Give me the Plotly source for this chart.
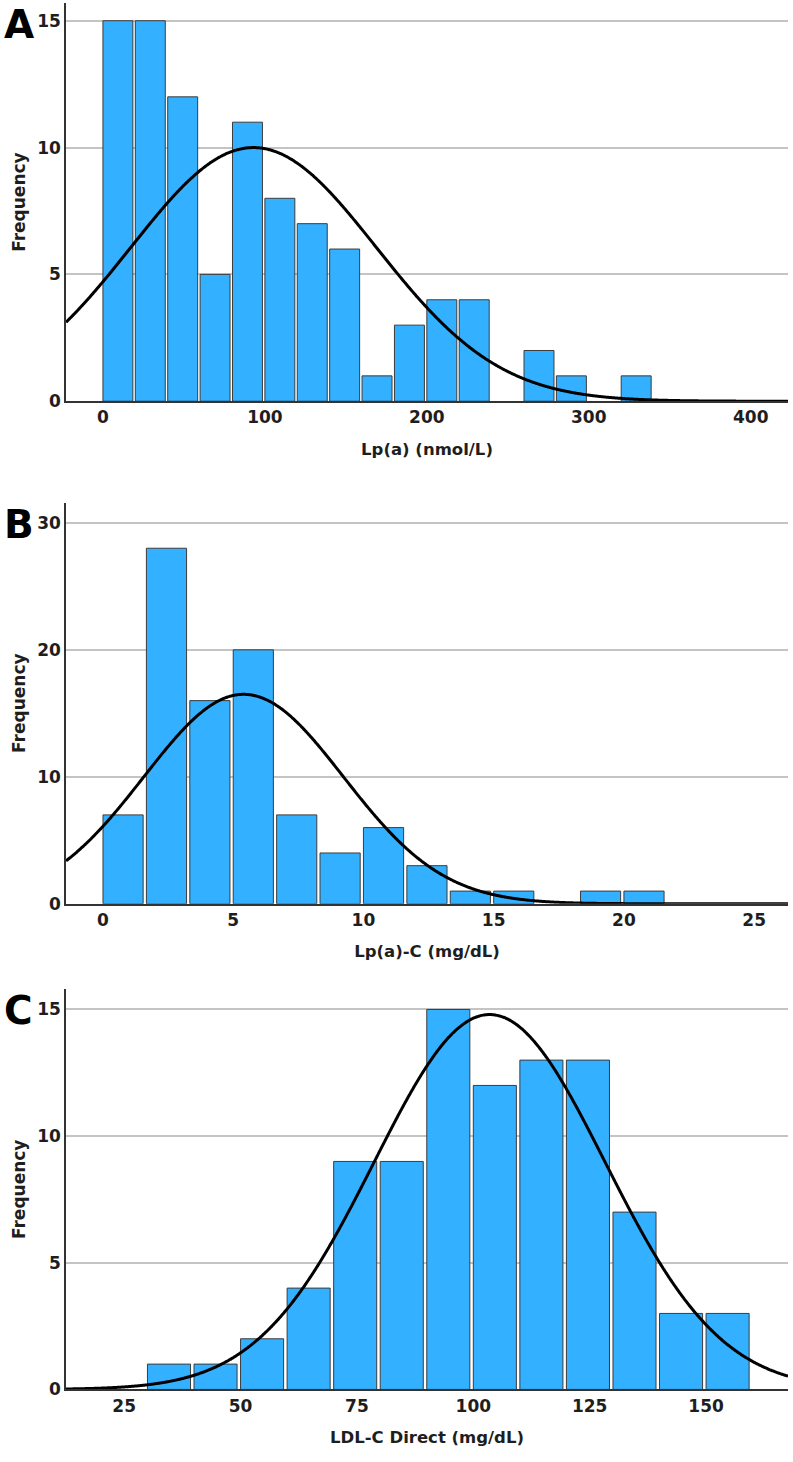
import numpy as np
import plotly.graph_objects as go

# ---------------- Data ----------------
# Panel A: Lp(a) (nmol/L)
A_BIN_LEFT = [0, 20, 40, 60, 80, 100, 120, 140, 160, 180, 200, 220, 240, 260, 280, 300, 320]
A_COUNTS = [15, 15, 12, 5, 11, 8, 7, 6, 1, 3, 4, 4, 0, 2, 1, 0, 1]
A_BIN_WIDTH = 20
A_MEAN = 93.0
A_SD = 75.8

# Panel B: Lp(a)-C (mg/dL)
B_BIN_LEFT = [0, 1.667, 3.333, 5.0, 6.667, 8.333, 10.0, 11.667, 13.333, 15.0, 16.667, 18.333, 20.0]
B_COUNTS = [7, 28, 16, 20, 7, 4, 6, 3, 1, 1, 0, 1, 1]
B_BIN_WIDTH = 1.667
B_MEAN = 5.4
B_SD = 3.83

# Panel C: LDL-C Direct (mg/dL)
C_BIN_LEFT = [30, 40, 50, 60, 70, 80, 90, 100, 110, 120, 130, 140, 150]
C_COUNTS = [1, 1, 2, 4, 9, 9, 15, 12, 13, 13, 7, 3, 3]
C_BIN_WIDTH = 10
C_MEAN = 103.5
C_SD = 24.8

X_TITLES = ["Lp(a) (nmol/L)", "Lp(a)-C (mg/dL)", "LDL-C Direct (mg/dL)"]
PANEL_LABELS = ["A", "B", "C"]

# ---------------- Styling ----------------
W, H = 793, 1462
BAR_FILL = "#33b0ff"
BAR_LINE = "#3c3c3c"
FONT = "DejaVu Sans"
TXT = "#1e1e1e"

panels = [
    dict(left=A_BIN_LEFT, counts=A_COUNTS, bw=A_BIN_WIDTH, mean=A_MEAN, sd=A_SD,
         xr=[-22.8, 423], yr=[0, 15.7], xd=100, yd=5, top=3, bot=404),
    dict(left=B_BIN_LEFT, counts=B_COUNTS, bw=B_BIN_WIDTH, mean=B_MEAN, sd=B_SD,
         xr=[-1.42, 26.3], yr=[0, 31.6], xd=5, yd=10, top=506, bot=910),
    dict(left=C_BIN_LEFT, counts=C_COUNTS, bw=C_BIN_WIDTH, mean=C_MEAN, sd=C_SD,
         xr=[12.5, 167.6], yr=[0, 15.8], xd=25, yd=5, top=996, bot=1399),
]

fig = go.Figure()
layout = dict(
    width=W, height=H, margin=dict(l=0, r=0, t=0, b=0),
    paper_bgcolor="white", plot_bgcolor="white", showlegend=False,
    font=dict(family=FONT, color=TXT),
    annotations=[],
)

x0, x1 = 66 / W, 788 / W
for i, p in enumerate(panels):
    n = i + 1
    xa = "x" if n == 1 else f"x{n}"
    ya = "y" if n == 1 else f"y{n}"
    shown = [c if c > 0 else None for c in p["counts"]]
    fig.add_trace(go.Bar(
        x=p["left"], y=shown, width=p["bw"] * 0.925, offset=0,
        marker=dict(color=BAR_FILL, line=dict(color=BAR_LINE, width=1)),
        xaxis=xa, yaxis=ya, hoverinfo="x+y",
    ))
    N = sum(p["counts"])
    xs = np.linspace(p["xr"][0], p["xr"][1], 600)
    ys = N * p["bw"] / (p["sd"] * np.sqrt(2 * np.pi)) * np.exp(-0.5 * ((xs - p["mean"]) / p["sd"]) ** 2)
    fig.add_trace(go.Scatter(
        x=xs, y=ys, mode="lines", line=dict(color="black", width=3, shape="spline"),
        xaxis=xa, yaxis=ya, hoverinfo="skip",
    ))
    ydom = [1 - p["bot"] / H, 1 - p["top"] / H]
    layout[f"xaxis{'' if n == 1 else n}"] = dict(
        domain=[x0, x1], range=p["xr"], anchor=ya, dtick=p["xd"], tick0=0,
        showgrid=False, zeroline=False, showline=True, linecolor="#333333", linewidth=1.5,
        ticks="", tickfont=dict(family=FONT, size=17, color=TXT, weight="bold"),
        title=dict(text=X_TITLES[i], font=dict(family=FONT, size=16.5, color=TXT, weight="bold"),
                   standoff=17),
        fixedrange=True,
    )
    layout[f"yaxis{'' if n == 1 else n}"] = dict(
        domain=ydom, range=p["yr"], anchor=xa, dtick=p["yd"], tick0=0,
        showgrid=True, gridcolor="#c4c4c4", gridwidth=1.5, zeroline=False,
        showline=True, linecolor="#333333", linewidth=1.5,
        ticks="", tickfont=dict(family=FONT, size=17, color=TXT, weight="bold"),
        title=dict(text="Frequency", font=dict(family=FONT, size=17, color=TXT, weight="bold"),
                   standoff=7),
        fixedrange=True,
    )
    layout["annotations"].append(dict(
        text=PANEL_LABELS[i], x=0.002, y=1 - (p["top"] - 3) / H, xref="paper", yref="paper",
        xanchor="left", yanchor="top", showarrow=False,
        font=dict(family=FONT, size=39, color="black", weight="bold"),
    ))

fig.update_layout(**layout)
fig.write_html("out.html")
